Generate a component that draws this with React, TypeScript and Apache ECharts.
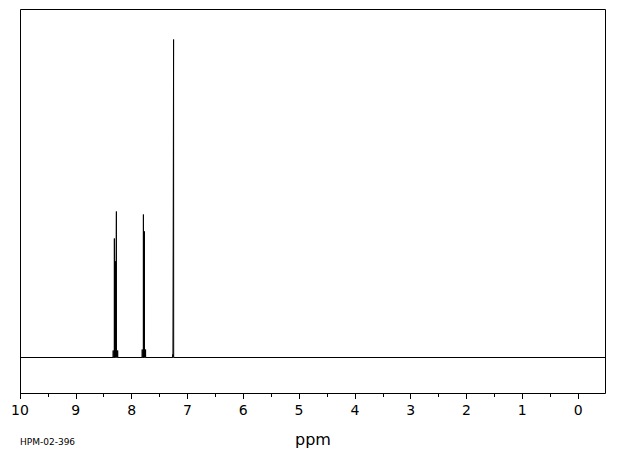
import React, { useEffect, useRef } from "react";
import * as echarts from "echarts";

// Peak positions (ppm) and intensities (arbitrary units above baseline)
const peakPpm = [8.33, 8.309, 8.297, 8.288, 8.273, 8.25, 7.81, 7.789, 7.78, 7.771, 7.75, 7.262, 7.248];
const peakHeight = [7, 119, 96, 96, 146, 7, 8, 143, 126, 126, 8, 3, 318];
const majorTicks = [10, 9, 8, 7, 6, 5, 4, 3, 2, 1, 0];
const minorTicks = [9.5, 8.5, 7.5, 6.5, 5.5, 4.5, 3.5, 2.5, 1.5, 0.5];
const axisMax = 10;
const axisMin = -0.5;
const sampleName = "HPM-02-396";
const axisTitle = "ppm";

export default function App() {
  const ref = useRef<HTMLDivElement>(null);
  useEffect(() => {
    if (!ref.current) return;
    const chart = echarts.init(ref.current, null, { renderer: "svg" });
    const data: number[][] = [[axisMax, 0]];
    const order = peakPpm.map((p, i) => i).sort((a, b) => peakPpm[b] - peakPpm[a]);
    order.forEach((i) => {
      const p = peakPpm[i];
      data.push([p + 0.002, 0], [p, peakHeight[i]], [p - 0.002, 0]);
    });
    data.push([axisMin, 0]);
    const baseAxis = {
      type: "value",
      min: axisMin,
      max: axisMax,
      inverse: true,
      position: "bottom",
      axisLine: { show: false, onZero: false },
      splitLine: { show: false },
    };
    chart.setOption({
      animation: false,
      backgroundColor: "#ffffff",
      grid: { left: 20, right: 14, top: 9, bottom: 62 },
      xAxis: [
        {
          ...baseAxis,
          axisTick: { show: true, length: 6, customValues: majorTicks, lineStyle: { color: "#000", width: 1 } },
          axisLabel: { color: "#000", fontSize: 14, margin: 10, fontFamily: "DejaVu Sans", customValues: majorTicks },
        },
        {
          ...baseAxis,
          axisTick: { show: true, length: 4, customValues: minorTicks, lineStyle: { color: "#000", width: 1 } },
          axisLabel: { show: false },
        },
      ],
      yAxis: { type: "value", show: false, min: -35.5, max: 348.5 },
      series: [
        {
          type: "line",
          data,
          showSymbol: false,
          silent: true,
          lineStyle: { color: "#000", width: 1 },
        },
      ],
      graphic: [
        {
          type: "rect",
          shape: { x: 20.5, y: 9.5, width: 585, height: 384 },
          style: { fill: "none", stroke: "#000", lineWidth: 1 },
          silent: true,
        },
        {
          type: "text",
          x: 20,
          y: 442,
          style: { text: sampleName, fill: "#000", fontSize: 9, fontFamily: "DejaVu Sans", verticalAlign: "middle" },
        },
        {
          type: "text",
          x: 313,
          y: 439,
          style: {
            text: axisTitle,
            fill: "#000",
            fontSize: 16,
            fontFamily: "DejaVu Sans",
            align: "center",
            verticalAlign: "middle",
          },
        },
      ],
    });
    return () => chart.dispose();
  }, []);
  return <div ref={ref} style={{ width: 620, height: 455, position: "absolute", left: 0, top: 0 }} />;
}
